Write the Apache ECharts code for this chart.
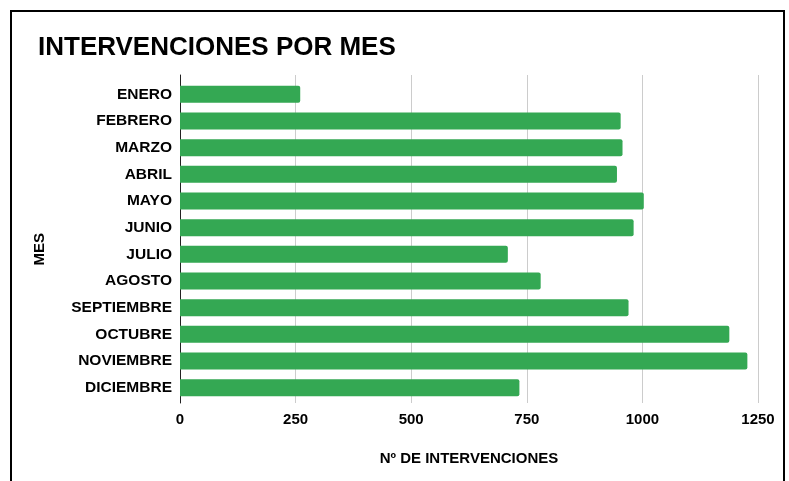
<!DOCTYPE html>
<html>
<head>
<meta charset="utf-8">
<script src="https://cdn.jsdelivr.net/npm/echarts@6/dist/echarts.min.js"></script>
<style>
  html, body { margin: 0; padding: 0; background: #fff; }
  #frame { position: absolute; left: 10px; top: 10px; width: 771px; height: 500px; border: 2px solid #000; box-sizing: content-box; }
  #chart { position: absolute; left: 0; top: 0; width: 789px; height: 481px; }
</style>
</head>
<body>
<div id="frame"></div>
<div id="chart"></div>
<script>
// datos del gráfico
var meses = ['ENERO', 'FEBRERO', 'MARZO', 'ABRIL', 'MAYO', 'JUNIO', 'JULIO',
  'AGOSTO', 'SEPTIEMBRE', 'OCTUBRE', 'NOVIEMBRE', 'DICIEMBRE']
var intervenciones = [260, 953, 957, 945, 1003, 981, 709, 780, 970, 1188, 1227, 734]
var ticks = [0, 250, 500, 750, 1000, 1250]

var fuente = 'Arial, "Liberation Sans", sans-serif'
var texto = { fontFamily: fuente, fontWeight: 'bold', color: '#000' }

var myChart = echarts.init(document.getElementById('chart'))
myChart.setOption({
  animation: false,
  title: {
    text: 'INTERVENCIONES POR MES',
    left: 33,
    top: 30,
    textStyle: Object.assign({ fontSize: 26 }, texto)
  },
  // grid 0: barras; grid 1: rejilla y ejes (un poco más alta, como en el original)
  grid: [
    { left: 180, top: 81, width: 578, height: 320 },
    { left: 180, top: 75, width: 578, height: 328 }
  ],
  graphic: [{
    type: 'text',
    left: 32,
    top: 233,
    rotation: Math.PI / 2,
    style: { text: 'MES', font: 'bold 15px ' + fuente, fill: '#000' }
  }],
  xAxis: [
    {
      gridIndex: 0,
      type: 'value',
      min: ticks[0],
      max: ticks[ticks.length - 1],
      interval: 250,
      show: false
    },
    {
      gridIndex: 1,
      type: 'value',
      min: ticks[0],
      max: ticks[ticks.length - 1],
      interval: 250,
      name: 'Nº DE INTERVENCIONES',
      nameLocation: 'middle',
      nameGap: 48,
      nameTextStyle: Object.assign({ fontSize: 15 }, texto),
      axisLine: { show: false },
      axisTick: { show: false },
      axisLabel: Object.assign({
        margin: 9,
        fontSize: 15,
        formatter: function (v) { return String(v) }
      }, texto),
      splitLine: { lineStyle: { color: '#cccccc', width: 1 } }
    }
  ],
  yAxis: [
    {
      gridIndex: 0,
      type: 'category',
      data: meses,
      inverse: true,
      axisLine: { show: false },
      axisTick: { show: false },
      axisLabel: Object.assign({ margin: 8, fontSize: 15.5 }, texto)
    },
    {
      gridIndex: 1,
      type: 'value',
      min: 0,
      max: 1,
      axisLine: { show: true, onZero: false, lineStyle: { color: '#222', width: 1 } },
      axisTick: { show: false },
      axisLabel: { show: false },
      splitLine: { show: false }
    }
  ],
  series: [{
    type: 'bar',
    xAxisIndex: 0,
    yAxisIndex: 0,
    data: intervenciones,
    barWidth: 17,
    z: 3,
    itemStyle: { color: '#34a853', borderRadius: [0, 2, 2, 0] }
  }]
})
</script>
</body>
</html>
